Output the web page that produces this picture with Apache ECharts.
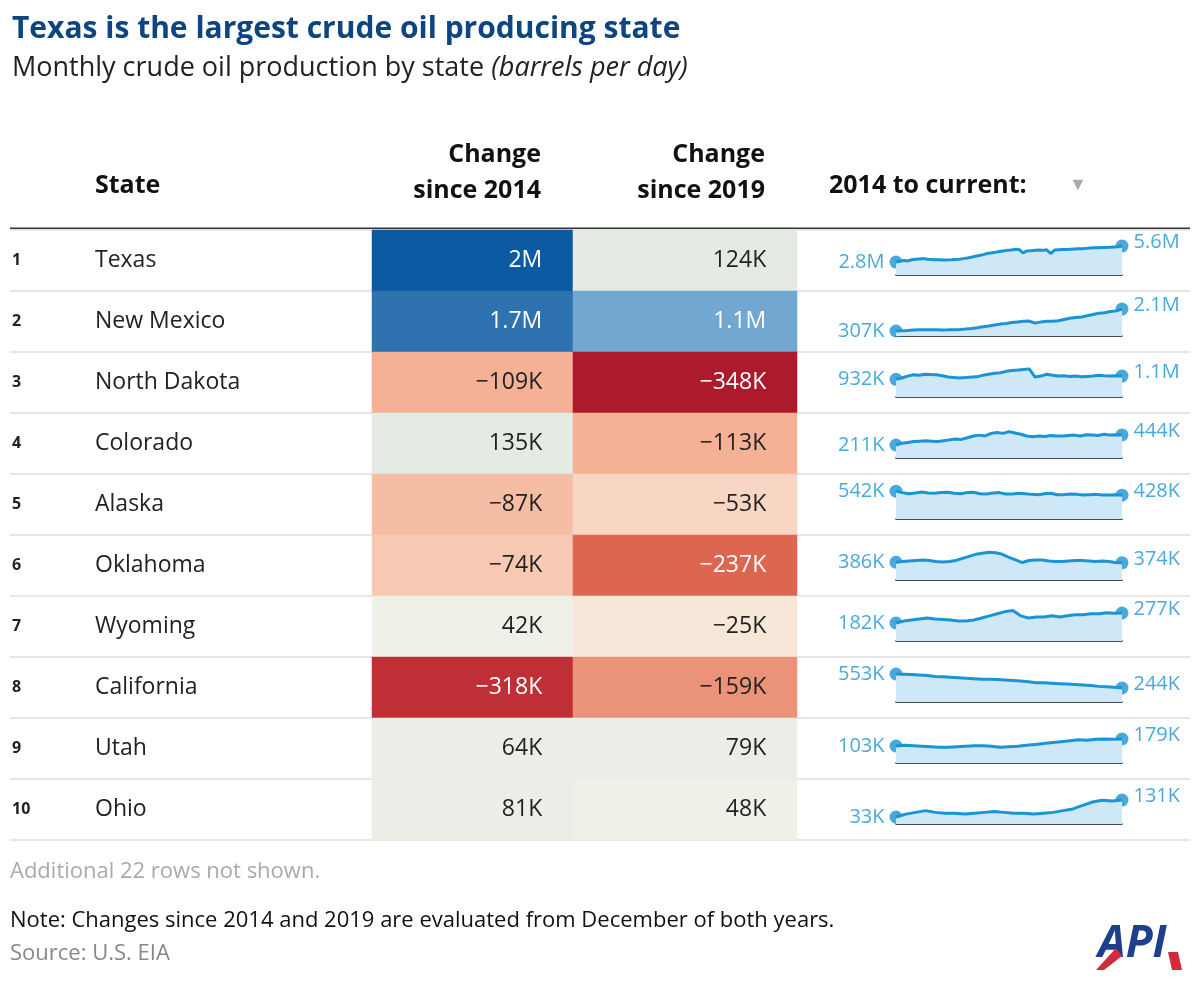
<!DOCTYPE html>
<html><head><meta charset="utf-8">
<script src="https://cdn.jsdelivr.net/npm/echarts@6/dist/echarts.min.js"></script>
<style>html,body{margin:0;padding:0;background:#fff}#c{width:1200px;height:984px}</style>
</head><body><div id="c"></div>
<script>
const states = ['Texas','New Mexico','North Dakota','Colorado','Alaska','Oklahoma','Wyoming','California','Utah','Ohio'];
const ranks = ['1','2','3','4','5','6','7','8','9','10'];
const change2014 = [2000000,1700000,-109000,135000,-87000,-74000,42000,-318000,64000,81000];
const change2019 = [124000,1100000,-348000,-113000,-53000,-237000,-25000,-159000,79000,48000];
const change2014Labels = ['2M','1.7M','\u2212109K','135K','\u221287K','\u221274K','42K','\u2212318K','64K','81K'];
const change2019Labels = ['124K','1.1M','\u2212348K','\u2212113K','\u221253K','\u2212237K','\u221225K','\u2212159K','79K','48K'];
const startLabels = ['2.8M','307K','932K','211K','542K','386K','182K','553K','103K','33K'];
const endLabels = ['5.6M','2.1M','1.1M','444K','428K','374K','277K','244K','179K','131K'];
// production, thousand barrels per day (approx. 2014 to current)
const texas = [2800,2950,3050,3000,3200,3300,3350,3400,3300,3250,3200,3180,3150,3170,3200,3250,3300,3400,3500,3650,3800,3950,4100,4300,4400,4500,4650,4750,4850,4900,5000,5050,4400,4750,4800,4850,4900,4850,4950,4300,4900,4950,5000,5000,5050,5100,5150,5150,5200,5250,5300,5300,5350,5350,5400,5450,5500,5600];
const newMexico = [307,330,350,380,400,410,405,400,395,400,410,430,470,520,580,650,720,800,870,920,1000,1050,1100,1120,950,1050,1100,1100,1150,1250,1350,1400,1450,1550,1650,1750,1800,1900,1950,2100];
const northDakota = [932,1000,1100,1170,1150,1200,1180,1170,1120,1050,1030,1000,1020,1050,1060,1150,1200,1250,1280,1350,1400,1420,1450,1480,1050,1100,1200,1150,1100,1120,1080,1100,1060,1080,1100,1150,1120,1100,1120,1100];
const colorado = [211,250,270,290,300,310,300,290,310,330,350,340,380,420,440,420,480,500,480,520,490,460,420,400,420,410,430,420,420,430,440,420,450,440,430,460,440,450,444];
const alaska = [542,500,470,490,520,490,480,500,510,480,470,500,510,470,460,490,500,460,460,480,470,450,440,470,480,440,440,460,450,430,440,450,430,430,440,428];
const oklahoma = [386,400,410,420,430,420,400,390,400,420,460,500,540,560,580,570,540,480,430,380,420,430,430,410,400,400,410,420,420,410,400,410,400,380,374];
const wyoming = [182,200,210,220,230,220,215,210,200,200,210,230,250,270,290,300,250,230,240,240,250,240,250,260,260,270,270,280,275,277];
const california = [553,550,540,530,520,500,490,480,470,460,450,440,440,430,420,410,400,380,360,360,350,340,330,320,310,300,280,270,260,244];
const utah = [103,110,105,100,95,90,90,95,100,105,105,100,90,95,100,110,120,130,140,150,160,170,165,175,180,175,179];
const ohio = [33,50,60,70,60,55,55,50,55,60,65,60,55,55,50,55,60,70,80,100,120,130,125,131];
const sparkSeries = [texas,newMexico,northDakota,colorado,alaska,oklahoma,wyoming,california,utah,ohio];
const sparkMin = [520,-100,0,-90,-250,40,11,-65,-82,-7];
const sparkMax = [7200,3000,2000,790,830,780,372,774,331,212];

const FONT = '"Open Sans", "Noto Sans", sans-serif';
const chart = echarts.init(document.getElementById('c'), null, {renderer:'canvas'});
const ROW0 = 230, RH = 61;
const grids = [
  {left:10, right:10, top:ROW0, height:RH*10},
  {left:372, width:201, top:ROW0, height:RH*10},
  {left:573, width:224, top:ROW0, height:RH*10}
];
const xAxes = [
  {gridIndex:0, type:'value', show:false},
  {gridIndex:1, type:'category', data:['2014'], show:false},
  {gridIndex:2, type:'category', data:['2019'], show:false}
];
const yAxes = [
  {gridIndex:0, type:'category', inverse:true, data:states,
   axisLine:{show:false}, axisTick:{show:false},
   splitLine:{show:true, lineStyle:{color:'#e6e6e6', width:2}},
   axisLabel:{inside:true, margin:2, align:'left', fontFamily:FONT,
     formatter:(v,i)=>'{r|'+ranks[i]+'}{s|'+v+'}',
     rich:{r:{width:83, fontSize:16, fontWeight:'bold', color:'#222', fontFamily:FONT},
           s:{fontSize:23, color:'#222', fontFamily:FONT}}}},
  {gridIndex:1, type:'category', inverse:true, data:states, show:false},
  {gridIndex:2, type:'category', inverse:true, data:states, show:false}
];
function cellLabel(labels){
  return {show:true, position:'insideRight', distance:31, fontFamily:FONT,
    formatter:p=>{const v=p.data[2]; const w=(v>=1000000 || v<=-200000);
      return '{'+(w?'w':'d')+'|'+labels[p.data[1]]+'}';},
    rich:{w:{color:'#fff', fontSize:23, fontFamily:FONT}, d:{color:'#222', fontSize:23, fontFamily:FONT}}};
}
const series = [
  {type:'scatter', xAxisIndex:0, yAxisIndex:0, data:[], silent:true},
  {type:'heatmap', xAxisIndex:1, yAxisIndex:1, data:states.map((s,i)=>[0,i,change2014[i]]),
   label:cellLabel(change2014Labels), itemStyle:{borderWidth:0}},
  {type:'heatmap', xAxisIndex:2, yAxisIndex:2, data:states.map((s,i)=>[0,i,change2019[i]]),
   label:cellLabel(change2019Labels), itemStyle:{borderWidth:0}}
];
sparkSeries.forEach((arr,i)=>{
  const gi = grids.length;
  grids.push({left:896, width:226, top:ROW0+RH*i+7, height:38});
  xAxes.push({gridIndex:gi, type:'value', min:0, max:arr.length-1,
    axisLine:{show:true, onZero:false, lineStyle:{color:'#111', width:1.5}},
    axisTick:{show:false}, axisLabel:{show:false}, splitLine:{show:false}});
  yAxes.push({gridIndex:gi, type:'value', min:sparkMin[i], max:sparkMax[i], show:false, splitLine:{show:false}});
  series.push({type:'line', xAxisIndex:gi, yAxisIndex:gi, data:arr.map((v,k)=>[k,v]),
    showSymbol:false, symbol:'none', lineStyle:{color:'#1a94d4', width:3},
    areaStyle:{color:'#cfe8f7', opacity:1, origin:'start'}, silent:true});
  const n = arr.length-1;
  series.push({type:'scatter', xAxisIndex:gi, yAxisIndex:gi, symbolSize:13,
    itemStyle:{color:'#1a94d4'}, silent:true,
    data:[{value:[0,arr[0]], label:{position:'left', formatter:startLabels[i]}},
          {value:[n,arr[n]], label:{position:'right', offset:[0,-4], formatter:endLabels[i]}}],
    label:{show:true, color:'#1a94d4', fontSize:20, fontFamily:FONT, distance:5}});
});

const pieces = [
  {lt:-330000, color:'#ad1a2c'},
  {gte:-330000, lt:-280000, color:'#be3035'},
  {gte:-280000, lt:-200000, color:'#dd6650'},
  {gte:-200000, lt:-140000, color:'#ea9378'},
  {gte:-140000, lt:-100000, color:'#f4b195'},
  {gte:-100000, lt:-80000, color:'#f5bea4'},
  {gte:-80000, lt:-60000, color:'#f7c9b3'},
  {gte:-60000, lt:-40000, color:'#f8d6c3'},
  {gte:-40000, lt:0, color:'#f6e7d8'},
  {gte:0, lt:60000, color:'#eff1e8'},
  {gte:60000, lt:100000, color:'#ebeee6'},
  {gte:100000, lt:200000, color:'#e4eae4'},
  {gte:200000, lt:1300000, color:'#71a7d0'},
  {gte:1300000, lt:1800000, color:'#2f72b0'},
  {gte:1800000, color:'#0b5aa2'}
];
chart.setOption({
  animation:false,
  textStyle:{fontFamily:FONT},
  grid:grids, xAxis:xAxes, yAxis:yAxes, series:series,
  visualMap:{type:'piecewise', show:false, seriesIndex:[1,2], dimension:2, pieces:pieces},
  graphic:[
    {type:'text', left:12, top:14, style:{text:'Texas is the largest crude oil producing state', font:'bold 30px '+FONT, fill:'#0e4580'}},
    {type:'text', left:12, top:55, style:{text:'{n|Monthly crude oil production by state }{i|(barrels per day)}',
      rich:{n:{font:'27px '+FONT, fill:'#222'}, i:{font:'italic 27px '+FONT, fill:'#222'}}}},
    {type:'text', left:95, top:173, style:{text:'State', font:'bold 25px '+FONT, fill:'#111'}},
    {type:'text', x:541, y:137, style:{text:'Change\nsince 2014', font:'bold 25px '+FONT, fill:'#111', align:'right', lineHeight:36}},
    {type:'text', x:765, y:137, style:{text:'Change\nsince 2019', font:'bold 25px '+FONT, fill:'#111', align:'right', lineHeight:36}},
    {type:'text', left:829, top:173, style:{text:'2014 to current:', font:'bold 25px '+FONT, fill:'#111'}},
    {type:'text', left:1069, top:176, style:{text:'\u25BC', font:'18px '+FONT, fill:'#aaa'}},
    {type:'line', shape:{x1:10, y1:229, x2:1190, y2:229}, style:{stroke:'#333', lineWidth:3}},
    {type:'text', left:10, top:861, style:{text:'Additional 22 rows not shown.', font:'22px '+FONT, fill:'#aaa'}},
    {type:'text', left:10, top:910, style:{text:'Note: Changes since 2014 and 2019 are evaluated from December of both years.', font:'22px '+FONT, fill:'#111'}},
    {type:'text', left:10, top:943, style:{text:'Source: U.S. EIA', font:'22px '+FONT, fill:'#888'}},
    {type:'text', left:1098, top:922, style:{text:'API', font:'bold italic 44px '+FONT, fill:'#1d3f8c'}},
    {type:'polygon', shape:{points:[[1096,970],[1116,948],[1122,956],[1104,970]]}, style:{fill:'#d22b3a'}},
    {type:'polygon', shape:{points:[[1168,952],[1178,952],[1182,970],[1172,970]]}, style:{fill:'#d22b3a'}}
  ]
});
</script></body></html>
